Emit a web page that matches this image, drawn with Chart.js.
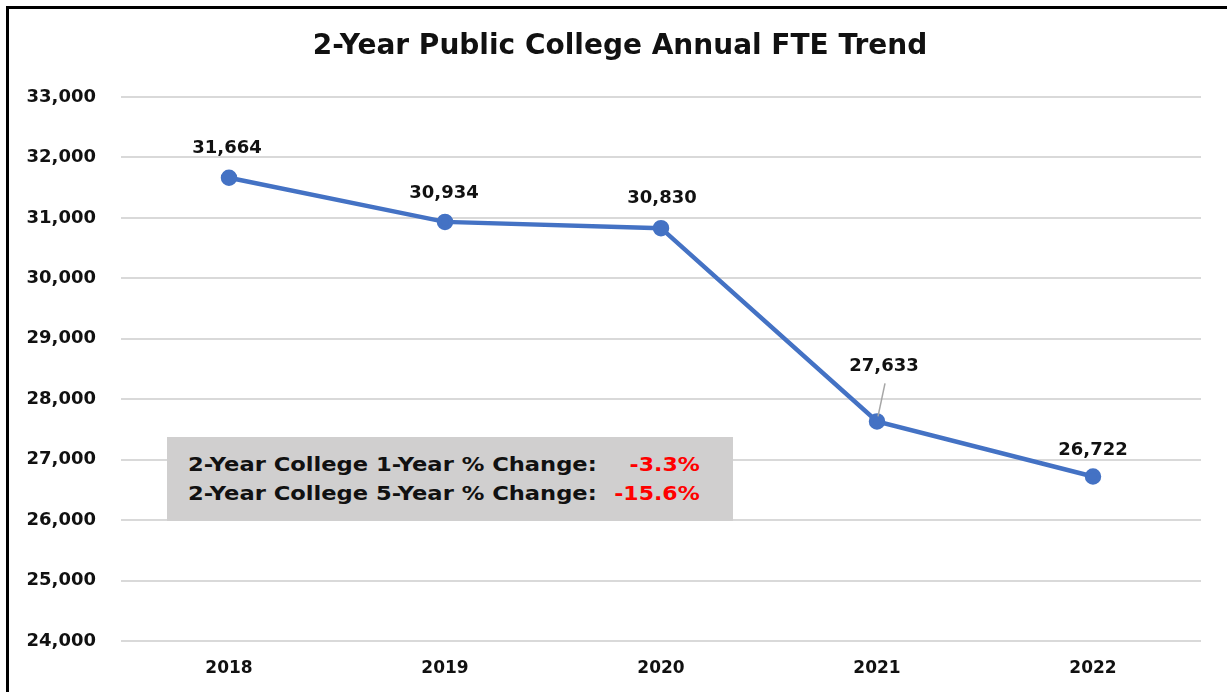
<!DOCTYPE html>
<html>
<head>
<meta charset="utf-8">
<script src="https://cdn.jsdelivr.net/npm/chart.js@4/dist/chart.umd.min.js"></script>
<style>
  html, body { margin: 0; padding: 0; background: #fff; }
  #wrap { position: relative; width: 1227px; height: 692px; overflow: hidden; }
  #frame { position: absolute; left: 6px; top: 6px; width: 1300px; height: 800px;
           border-top: 3px solid #000; border-left: 3px solid #000; pointer-events: none; }
  #note { position: absolute; left: 167px; top: 437px; width: 566px; height: 84px;
          background: #d0cfcf; font-family: "DejaVu Sans", sans-serif; font-weight: 700;
          font-size: 20px; color: #111; box-sizing: border-box; padding: 13px 0 0 21px; }
  #note .row { position: relative; height: 29px; line-height: 29px; }
  #note .lbl { position: absolute; left: 0; top: 0; white-space: nowrap;
               transform: scaleX(1.13); transform-origin: left center; }
  #note .val { position: absolute; right: 33px; top: 0; white-space: nowrap; color: #ff0000;
               transform: scaleX(1.1); transform-origin: right center; }
</style>
</head>
<body>
<div id="wrap">
  <canvas id="c" width="1227" height="692"></canvas>
  <div id="frame"></div>
  <div id="note">
    <div class="row"><span class="lbl" id="l1"></span><span class="val" id="v1"></span></div>
    <div class="row"><span class="lbl" id="l2"></span><span class="val" id="v2"></span></div>
  </div>
</div>
<script>
const years = ['2018', '2019', '2020', '2021', '2022'];
const fte = [31664, 30934, 30830, 27633, 26722];
const yTicks = [24000, 25000, 26000, 27000, 28000, 29000, 30000, 31000, 32000, 33000];
const titleText = '2-Year Public College Annual FTE Trend';
const noteLabels = ['2-Year College 1-Year % Change:', '2-Year College 5-Year % Change:'];
const noteValues = ['-3.3%', '-15.6%'];

document.getElementById('l1').textContent = noteLabels[0];
document.getElementById('l2').textContent = noteLabels[1];
document.getElementById('v1').textContent = noteValues[0];
document.getElementById('v2').textContent = noteValues[1];

// label placement style (offsets in px relative to point)
const labelOffsets = [[-2, -29], [-1, -29], [1, -30], [7, -55], [0, -26]];
const FONT = '"DejaVu Sans", sans-serif';

const fmt = v => v.toLocaleString('en-US');

const titlePlugin = {
  id: 'customTitle',
  afterDraw(chart) {
    const ctx = chart.ctx;
    ctx.save();
    ctx.font = 'bold 28px ' + FONT;
    ctx.fillStyle = '#111';
    ctx.textAlign = 'center';
    ctx.textBaseline = 'middle';
    ctx.fillText(titleText, 620, 47);
    ctx.restore();
  }
};

const dataLabels = {
  id: 'dataLabels',
  afterDatasetsDraw(chart) {
    const ctx = chart.ctx;
    const meta = chart.getDatasetMeta(0);
    ctx.save();
    ctx.font = 'bold 18px ' + FONT;
    ctx.fillStyle = '#111';
    ctx.textAlign = 'center';
    ctx.textBaseline = 'middle';
    meta.data.forEach((pt, i) => {
      const [dx, dy] = labelOffsets[i];
      const lx = pt.x + dx, ly = pt.y + dy;
      if (dy < -40) {
        ctx.strokeStyle = '#a6a6a6';
        ctx.lineWidth = 1.5;
        ctx.beginPath();
        ctx.moveTo(lx + 1, ly + 17);
        ctx.lineTo(pt.x + 1, pt.y - 5);
        ctx.stroke();
      }
      ctx.fillText(fmt(fte[i]), lx, ly);
    });
    ctx.restore();
  }
};

new Chart(document.getElementById('c'), {
  type: 'line',
  data: {
    labels: years,
    datasets: [{
      data: fte,
      borderColor: '#4472C4',
      backgroundColor: '#4472C4',
      borderWidth: 4.5,
      pointRadius: 6,
      pointBackgroundColor: '#4472C4',
      pointBorderColor: '#4472C4',
      tension: 0,
      fill: false
    }]
  },
  options: {
    responsive: false,
    animation: false,
    layout: { padding: { left: 10, right: 26, top: 97, bottom: 0 } },
    plugins: {
      legend: { display: false },
      tooltip: { enabled: false },
      title: { display: false }
    },
    scales: {
      x: {
        offset: true,
        grid: { display: false, drawTicks: false },
        border: { display: false },
        ticks: { color: '#111', font: { family: FONT, size: 17, weight: 'bold' }, padding: 17 },
        afterFit(s) { s.height = 51; }
      },
      y: {
        min: 24000, max: 33000,
        afterBuildTicks(s) { s.ticks = yTicks.map(v => ({ value: v })); },
        grid: { color: '#d9d9d9', lineWidth: 2, drawTicks: false },
        border: { display: false },
        ticks: {
          color: '#111', padding: 25,
          font: { family: FONT, size: 18, weight: 'bold' },
          callback: v => fmt(v)
        },
        afterFit(s) { s.width = 111; }
      }
    }
  },
  plugins: [dataLabels, titlePlugin]
});
</script>
</body>
</html>
